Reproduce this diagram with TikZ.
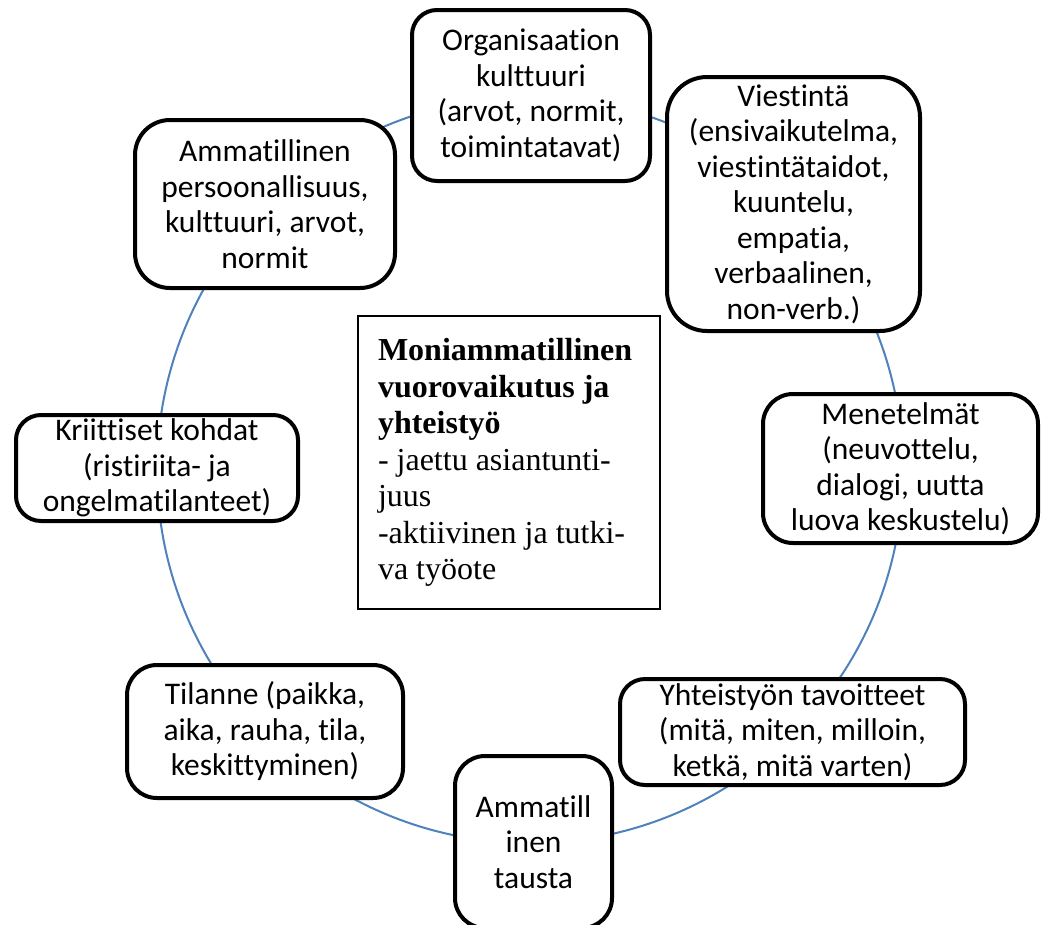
\documentclass[tikz,border=0pt]{standalone}
\usepackage{fontspec}
\setmainfont{Carlito}[Ligatures=NoCommon]
\newfontfamily\timesfont{Liberation Serif}
\definecolor{kehavari}{RGB}{79,129,189}

\begin{document}
\begin{tikzpicture}[x=1pt, y=-1pt,
  osa/.style={draw, line width=4pt, rounded corners=25pt, fill=white, align=center,
    inner sep=0pt, font=\fontsize{31.5}{35.5}\selectfont},
  kaari/.style={line width=2pt, draw=kehavari},
  keski/.style={draw, line width=1.5pt, fill=white, align=flush left, text width=262pt,
    inner xsep=20pt, inner ysep=0pt, font=\timesfont\fontsize{32}{36.5}\selectfont}]
\useasboundingbox (0,0) rectangle (1049,924);

% kehä
\draw[kaari] (530,470) circle (373);

% osat
\node[osa, minimum width=238, minimum height=171] (org) at (531,95.5)
  {Organisaation\\ kulttuuri\\ (arvot, normit,\\ toimintatavat)};
\node[osa, rounded corners=40pt, minimum width=253, minimum height=254] (viest) at (793.5,204)
  {Viestintä\\ (ensivaikutelma,\\ viestintätaidot,\\ kuuntelu,\\ empatia,\\ verbaalinen,\\ non-verb.)};
\node[osa, rounded corners=30pt, minimum width=275, minimum height=149] (menet) at (900.5,468.5)
  {Menetelmät\\ (neuvottelu,\\ dialogi, uutta\\ luova keskustelu)};
\node[osa, minimum width=345, minimum height=106] (yht) at (792.5,732)
  {Yhteistyön tavoitteet\\ (mitä, miten, milloin,\\ ketkä, mitä varten)};
\node[osa, rounded corners=30pt, minimum width=157, minimum height=172] (tausta) at (533.5,842)
  {Ammatill\\ inen\\ tausta};
\node[osa, rounded corners=30pt, minimum width=276, minimum height=133] (tilanne) at (265,731.5)
  {Tilanne (paikka,\\ aika, rauha, tila,\\ keskittyminen)};
\node[osa, minimum width=282, minimum height=106] (kriitt) at (157,468)
  {Kriittiset kohdat\\ (ristiriita- ja\\ ongelmatilanteet)};
\node[osa, rounded corners=35pt, minimum width=260, minimum height=168] (pers) at (265,204)
  {Ammatillinen\\ persoonallisuus,\\ kulttuuri, arvot,\\ normit};

% keskellä
\node[keski, minimum width=302, minimum height=293] (vuoro) at (509,462.5)
  {\textbf{Moniammatillinen}\\ \textbf{vuorovaikutus ja}\\ \textbf{yhteistyö}\\
   - jaettu asiantunti-\\ juus\\ -aktiivinen ja tutki-\\ va työote};
\end{tikzpicture}
\end{document}
